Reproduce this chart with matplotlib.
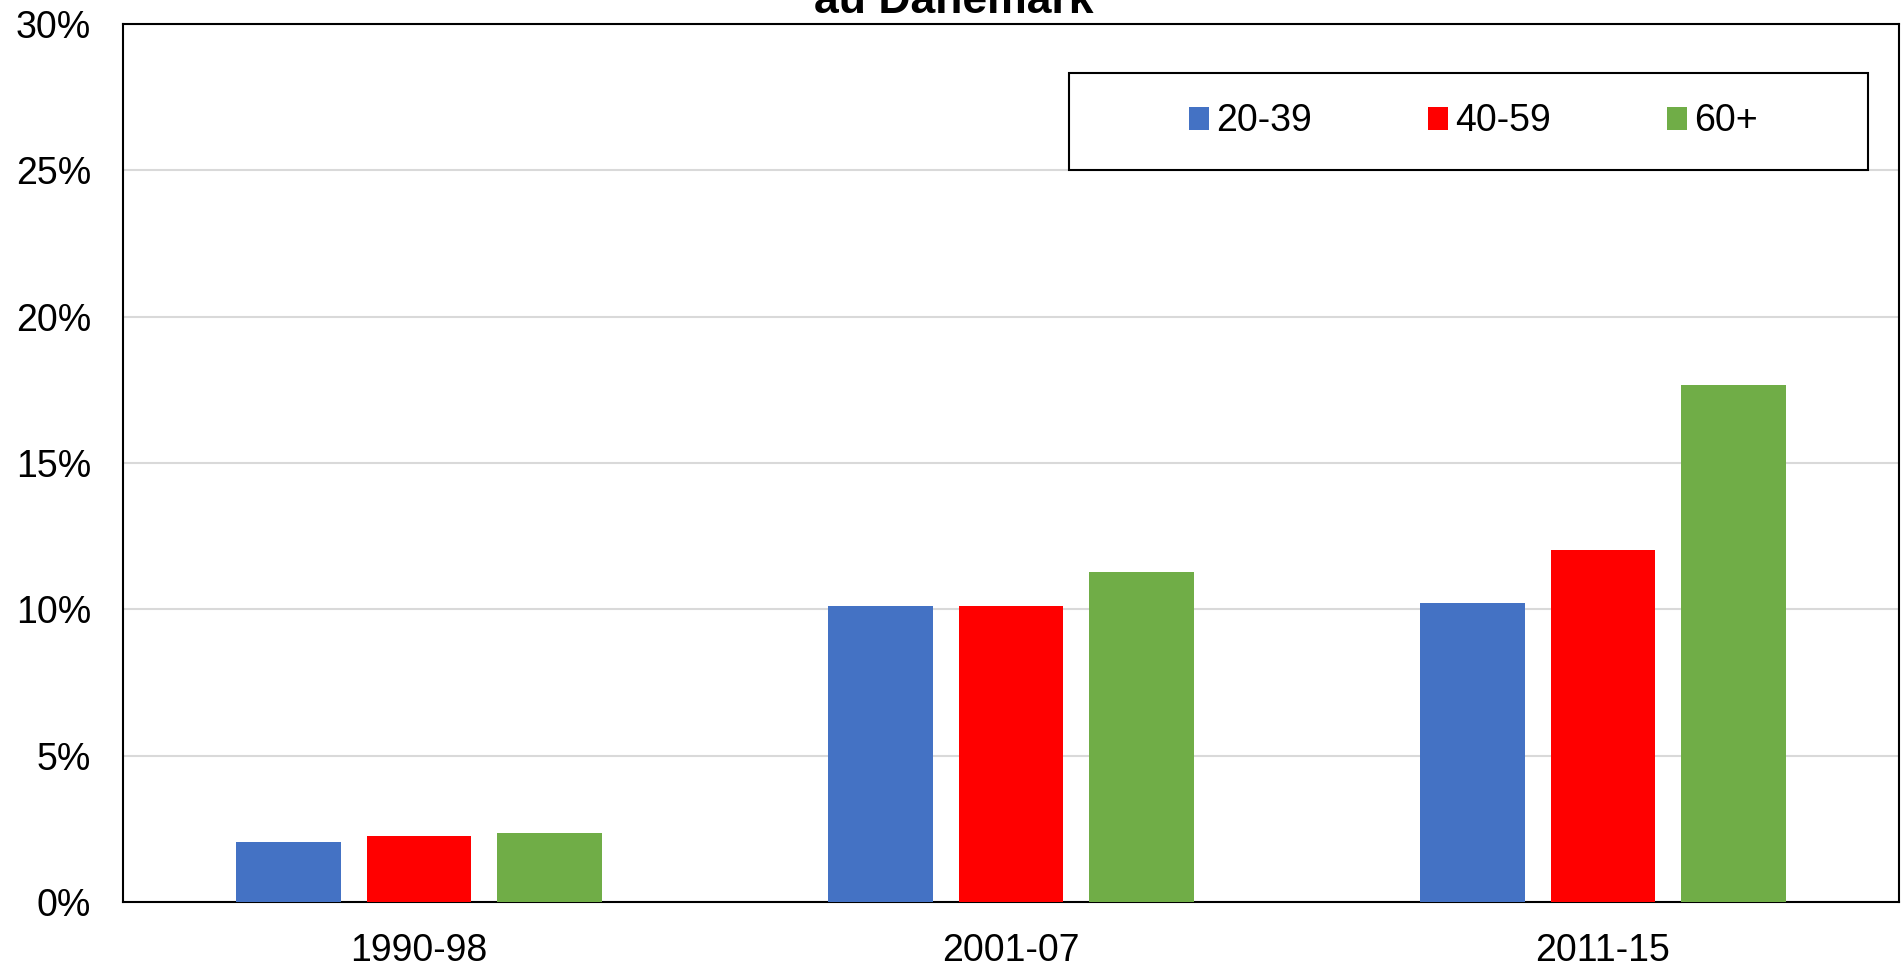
import matplotlib.pyplot as plt
from matplotlib.patches import Rectangle
import numpy as np

plt.rcParams['font.family'] = ['Liberation Sans', 'DejaVu Sans']

periods = ["1990-98", "2001-07", "2011-15"]
age_groups = ["20-39", "40-59", "60+"]
share_20_39 = [2.05, 10.1, 10.22]
share_40_59 = [2.25, 10.13, 12.04]
share_60_plus = [2.37, 11.29, 17.66]
colors = ["#4472c4", "#ff0000", "#70ad47"]

W, H = 1901, 965
fig = plt.figure(figsize=(W / 100, H / 100), dpi=100)
ax_l, ax_r, ax_t, ax_b = 123, 1899, 24, 902
ax = fig.add_axes([ax_l / W, 1 - ax_b / H, (ax_r - ax_l) / W, (ax_b - ax_t) / H])

x = np.arange(len(periods))
width = 0.177
step = 0.221
for i, (vals, name) in enumerate(zip([share_20_39, share_40_59, share_60_plus], age_groups)):
    ax.bar(x + (i - 1) * step, vals, width, color=colors[i], label=name, zorder=3)

ax.set_xlim(-0.5, len(periods) - 0.5)
ax.set_ylim(0, 30)
ax.set_yticks(range(0, 31, 5))
ax.set_yticklabels([f"{v}%" for v in range(0, 31, 5)])
ax.set_xticks(x)
ax.set_xticklabels(periods)
ax.tick_params(axis='both', length=0, labelsize=27)
ax.tick_params(axis='y', pad=23)
ax.tick_params(axis='x', pad=22)
ax.grid(axis='y', color='#d9d9d9', linewidth=1.5, zorder=0)
for sp in ax.spines.values():
    sp.set_color('black')
    sp.set_linewidth(1.5)

# legend box drawn separately so the entries stay centred inside it
aw, ah = ax_r - ax_l, ax_b - ax_t
bx0, bx1, by0, by1 = 1069, 1868, 73, 170
box = Rectangle(((bx0 - ax_l) / aw, 1 - (by1 - ax_t) / ah), (bx1 - bx0) / aw, (by1 - by0) / ah,
                transform=ax.transAxes, facecolor='white', edgecolor='black',
                linewidth=1.5, zorder=4)
ax.add_patch(box)
leg = ax.legend(ncol=3, loc='center',
                bbox_to_anchor=(((bx0 + bx1) / 2 + 5 - ax_l) / aw, 1 - ((by0 + by1) / 2 - ax_t) / ah),
                frameon=False, fontsize=27,
                handlelength=0.53, handleheight=0.56, handletextpad=0.19,
                columnspacing=3.1, borderaxespad=0)
leg.set_zorder(5)

fig.text(954 / W, 1 - 13 / H, "au Danemark", ha='center', va='baseline',
         fontsize=32, fontweight='bold')

fig.savefig("out.png", dpi=100)
